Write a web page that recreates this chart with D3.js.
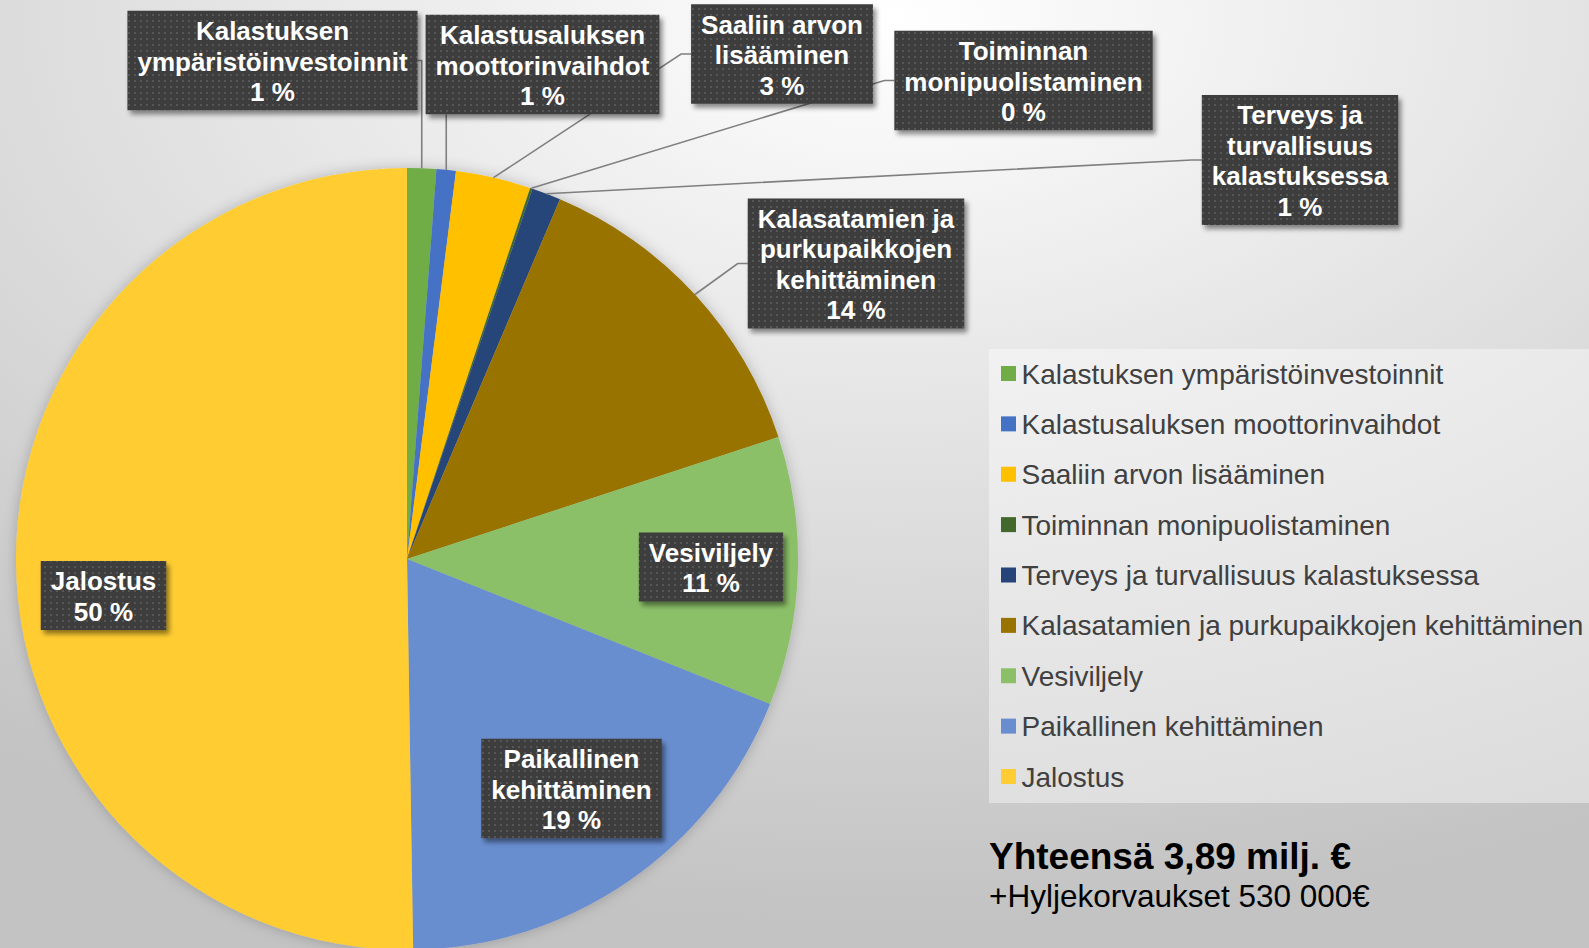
<!DOCTYPE html>
<html>
<head>
<meta charset="utf-8">
<script src="https://cdn.jsdelivr.net/npm/d3@7"></script>
<style>
  body { margin: 0; background: #d8d8d8; }
  svg { display: block; font-family: "Liberation Sans", Arial, sans-serif; }
</style>
</head>
<body>
<div id="chart"></div>
<script>
// data
const categories = [
  "Kalastuksen ympäristöinvestoinnit",
  "Kalastusaluksen moottorinvaihdot",
  "Saaliin arvon lisääminen",
  "Toiminnan monipuolistaminen",
  "Terveys ja turvallisuus kalastuksessa",
  "Kalasatamien ja purkupaikkojen kehittäminen",
  "Vesiviljely",
  "Paikallinen kehittäminen",
  "Jalostus"
];
const shares = [1.2, 0.8, 3.1, 0.1, 1.2, 13.55, 11.1, 18.7, 50.25]; // % of 3,89 milj. €
const labelLines = [
  ["Kalastuksen", "ympäristöinvestoinnit"],
  ["Kalastusaluksen", "moottorinvaihdot"],
  ["Saaliin arvon", "lisääminen"],
  ["Toiminnan", "monipuolistaminen"],
  ["Terveys ja", "turvallisuus", "kalastuksessa"],
  ["Kalasatamien ja", "purkupaikkojen", "kehittäminen"],
  ["Vesiviljely"],
  ["Paikallinen", "kehittäminen"],
  ["Jalostus"]
];
const totalTitle = "Yhteensä 3,89 milj. €";
const totalNote = "+Hyljekorvaukset 530 000€";

// layout (label box centres, and whether a leader line is drawn)
const colors = ["#70ad47", "#4472c4", "#ffc000", "#43682b", "#264478",
                "#997300", "#8cc068", "#698ed0", "#ffcd33"];
const labelPos = [[272.5, 60.5], [542.5, 64.5], [782, 54], [1023.5, 80.5],
                  [1300, 160], [856, 263.5], [711, 567], [571.5, 788.5], [103.5, 595.5]];
const hasLeader = [true, true, true, true, true, true, false, false, false];

(function () {
  const width = 1589;
  const height = 948;
  const cx = 407, cy = 559, R = 391;
  const lineH = 30.5;

  const data = categories.map((c, i) => ({
    name: c, value: shares[i], color: colors[i],
    lines: labelLines[i], pos: labelPos[i], leader: hasLeader[i]
  }));

  const svg = d3.select("#chart")
    .append("svg")
    .attr("width", width)
    .attr("height", height)
    .attr("viewBox", [0, 0, width, height]);

  const defs = svg.append("defs");

  const bg = defs.append("radialGradient")
    .attr("id", "bg")
    .attr("cx", 0.56).attr("cy", 0.02).attr("r", 0.95);
  bg.append("stop").attr("offset", 0).attr("stop-color", "#ffffff");
  bg.append("stop").attr("offset", 0.45).attr("stop-color", "#e4e4e4");
  bg.append("stop").attr("offset", 1).attr("stop-color", "#c3c3c3");

  const dots = defs.append("pattern")
    .attr("id", "dots")
    .attr("width", 6).attr("height", 6)
    .attr("patternUnits", "userSpaceOnUse");
  dots.append("rect").attr("width", 6).attr("height", 6).attr("fill", "#3d3d3d");
  dots.append("rect").attr("x", 2).attr("y", 2).attr("width", 2).attr("height", 2).attr("fill", "#575757");

  defs.append("filter")
    .attr("id", "shadow")
    .attr("x", "-20%").attr("y", "-20%").attr("width", "140%").attr("height", "150%")
    .append("feDropShadow")
    .attr("dx", 3).attr("dy", 4).attr("stdDeviation", 2.5)
    .attr("flood-color", "#000").attr("flood-opacity", 0.45);

  defs.append("filter")
    .attr("id", "pieShadow")
    .attr("x", "-10%").attr("y", "-10%").attr("width", "120%").attr("height", "120%")
    .append("feDropShadow")
    .attr("dx", 0).attr("dy", 0).attr("stdDeviation", 7)
    .attr("flood-color", "#000").attr("flood-opacity", 0.22);

  svg.append("rect")
    .attr("width", width).attr("height", height)
    .attr("fill", "url(#bg)");

  // legend panel
  const legend = svg.append("g").attr("class", "legend");
  legend.append("rect")
    .attr("x", 989).attr("y", 349)
    .attr("width", width - 989).attr("height", 454)
    .attr("fill", "#ffffff").attr("fill-opacity", 0.4);

  const legendY = d3.scalePoint()
    .domain(categories)
    .range([373.5, 776.5]);

  const legendItems = legend.selectAll(".legend-item")
    .data(data)
    .enter()
    .append("g")
    .attr("class", "legend-item")
    .attr("transform", (d) => `translate(1001, ${legendY(d.name)})`);

  legendItems.append("rect")
    .attr("y", -7.5)
    .attr("width", 15).attr("height", 15)
    .attr("fill", (d) => d.color);

  legendItems.append("text")
    .attr("x", 20.5)
    .attr("dy", "0.36em")
    .attr("font-size", "28px")
    .attr("fill", "#404040")
    .text((d) => d.name);

  // pie
  const pie = d3.pie().sort(null).value((d) => d.value);
  const arc = d3.arc().innerRadius(0).outerRadius(R);
  const arcs = pie(data);

  svg.append("g")
    .attr("transform", `translate(${cx},${cy})`)
    .attr("filter", "url(#pieShadow)")
    .selectAll("path")
    .data(arcs)
    .enter()
    .append("path")
    .attr("d", arc)
    .attr("fill", (d) => d.data.color);

  // labels: measure text first to size the boxes
  const pct = d3.format(".0f");
  const labels = svg.append("g").attr("class", "labels");

  const boxes = labels.selectAll("g.label")
    .data(arcs)
    .enter()
    .append("g")
    .attr("class", "label");

  const boxRects = boxes.append("rect")
    .attr("fill", "url(#dots)")
    .attr("filter", "url(#shadow)");

  const texts = boxes.append("text")
    .attr("font-size", "26px")
    .attr("font-weight", "bold")
    .attr("fill", "#ffffff")
    .attr("text-anchor", "middle");

  texts.each(function (d) {
    const all = d.data.lines.concat([pct(d.data.value) + " %"]);
    const n = all.length;
    const [x, y] = d.data.pos;
    d3.select(this).selectAll("tspan")
      .data(all)
      .enter()
      .append("tspan")
      .attr("x", x)
      .attr("y", (t, i) => y + (i - (n - 1) / 2) * lineH)
      .attr("dy", "0.39em")
      .text((t) => t);
  });

  const bounds = [];
  texts.each(function (d, i) {
    let w = 0;
    d3.select(this).selectAll("tspan").each(function () {
      w = Math.max(w, this.getComputedTextLength());
    });
    const n = d.data.lines.length + 1;
    const bw = w + 20, bh = n * lineH + 8;
    const [x, y] = d.data.pos;
    bounds[i] = { left: x - bw / 2, right: x + bw / 2, top: y - bh / 2, bottom: y + bh / 2, mid: y };
  });

  boxRects
    .attr("x", (d, i) => bounds[i].left)
    .attr("y", (d, i) => bounds[i].top)
    .attr("width", (d, i) => bounds[i].right - bounds[i].left)
    .attr("height", (d, i) => bounds[i].bottom - bounds[i].top);

  // leader lines, drawn under the boxes
  const leaderLine = d3.line();
  svg.insert("g", ".labels")
    .attr("class", "leaders")
    .selectAll("path")
    .data(arcs.filter((d) => d.data.leader))
    .enter()
    .append("path")
    .attr("fill", "none")
    .attr("stroke", "#7f7f7f")
    .attr("stroke-width", 1.6)
    .attr("d", (d) => {
      const b = bounds[d.index];
      const a = (d.startAngle + d.endAngle) / 2;
      const px = cx + R * Math.sin(a);
      const py = cy - R * Math.cos(a);
      let pts;
      if (px >= b.left && px <= b.right) {
        pts = [[px, py], [px, b.bottom]];
      } else if (px > b.right) {
        const ex = b.right + Math.min(10, px - b.right);
        pts = [[px, py], [ex, b.mid], [b.right, b.mid]];
      } else {
        const ex = b.left - Math.min(10, b.left - px);
        pts = [[px, py], [ex, b.mid], [b.left, b.mid]];
      }
      return leaderLine(pts);
    });

  // total
  svg.append("text")
    .attr("x", 989).attr("y", 869)
    .attr("font-size", "37px")
    .attr("font-weight", "bold")
    .attr("fill", "#000")
    .text(totalTitle);

  svg.append("text")
    .attr("x", 989).attr("y", 907)
    .attr("font-size", "31.5px")
    .attr("fill", "#000")
    .text(totalNote);
})();
</script>
</body>
</html>
